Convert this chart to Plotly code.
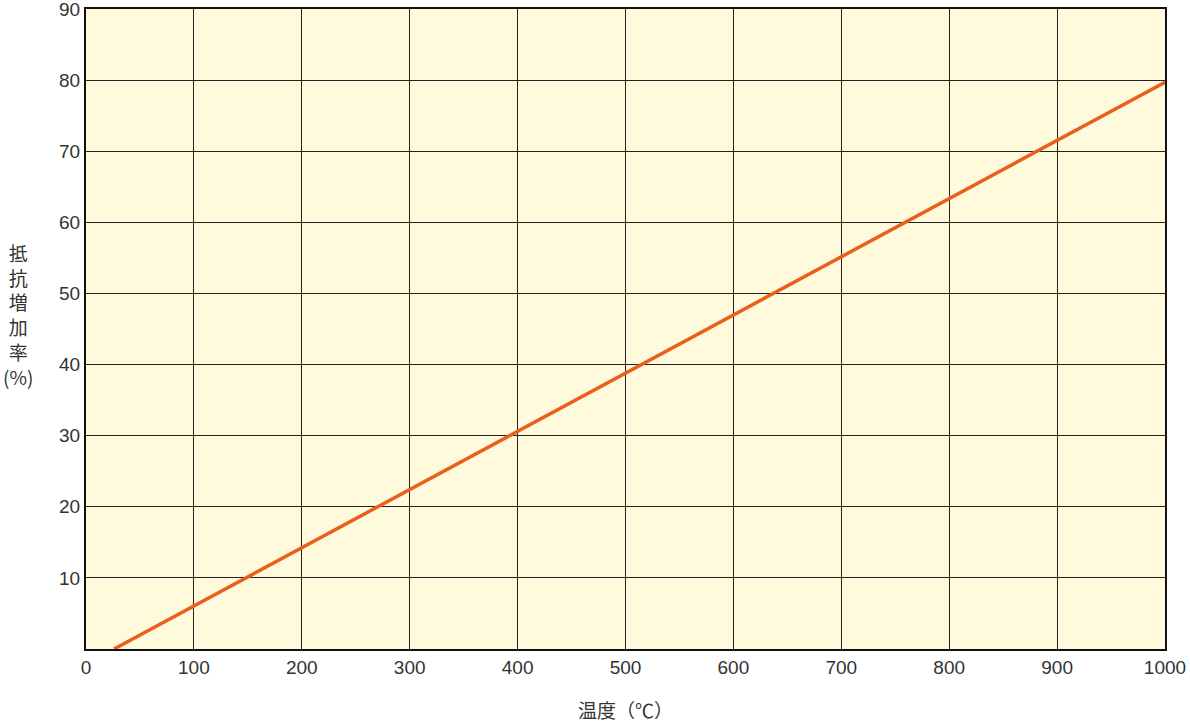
import plotly.graph_objects as go

temps = [26, 1000]
increase = [0, 79.7]
x_ticks = [0, 100, 200, 300, 400, 500, 600, 700, 800, 900, 1000]
y_ticks = [10, 20, 30, 40, 50, 60, 70, 80, 90]
x_title = "温度（℃）"
y_title_chars = ["抵", "抗", "増", "加", "率", "(%)"]

font_family = "Liberation Sans, Arial, Noto Sans CJK JP, sans-serif"
cjk_family = "Noto Sans CJK JP, sans-serif"

fig = go.Figure()
fig.add_trace(go.Scatter(x=temps, y=increase, mode="lines",
                         line=dict(color="#E8601C", width=3.5),
                         showlegend=False, hoverinfo="skip"))

fig.update_layout(
    width=1190, height=722,
    margin=dict(l=86, r=25, t=9, b=73, autoexpand=False),
    paper_bgcolor="white",
    plot_bgcolor="#FFFADC",
    font=dict(family=font_family, size=19, color="#333333"),
    xaxis=dict(range=[0, 1000], tickvals=x_ticks, showgrid=True,
               gridcolor="#222222", gridwidth=1, zeroline=False,
               showline=True, linecolor="#111111", linewidth=2, mirror=True,
               ticks="", ticklen=0, ticklabeloverflow="allow",
               tickfont=dict(size=19, color="#333333")),
    yaxis=dict(range=[0, 90], tickvals=y_ticks, showgrid=True,
               gridcolor="#222222", gridwidth=1, zeroline=False,
               showline=True, linecolor="#111111", linewidth=2, mirror=True,
               ticks="", ticklen=0, ticklabeloverflow="allow",
               tickfont=dict(size=19, color="#333333")),
)

fig.add_annotation(text=x_title, xref="paper", yref="paper", x=0.5, y=-0.0953,
                   xanchor="center", yanchor="middle", showarrow=False,
                   font=dict(size=19, color="#333333", family=cjk_family))
fig.add_annotation(text="<br>".join(y_title_chars), xref="paper", yref="paper",
                   x=-0.063, y=0.522, xanchor="center", yanchor="middle",
                   showarrow=False, align="center",
                   font=dict(size=19, color="#333333", family=cjk_family))

fig.write_html("out.html", config={"displayModeBar": False},
               post_script="document.body.style.margin='0';")
